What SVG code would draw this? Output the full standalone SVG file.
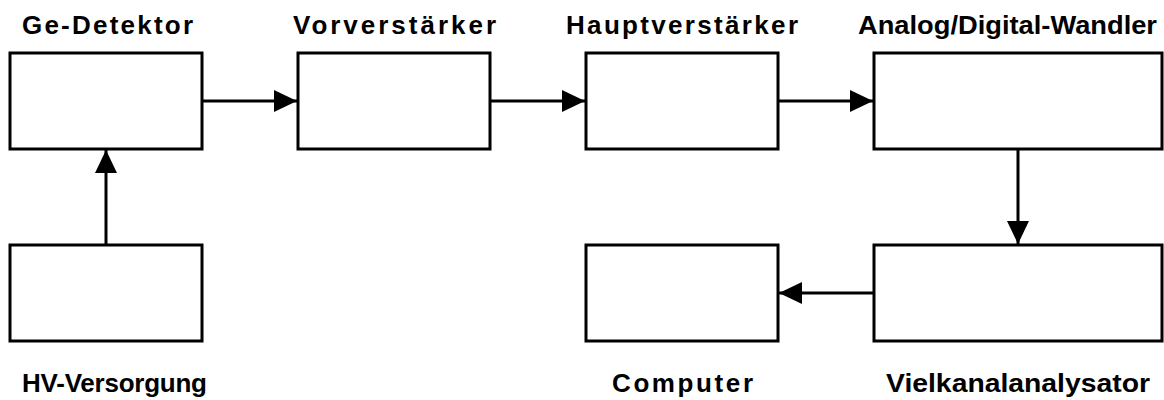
<svg xmlns="http://www.w3.org/2000/svg" width="1164" height="400" viewBox="0 0 1164 400">
<style>
.box{fill:#fff;stroke:#000;stroke-width:3}
.lbl{font-family:"Liberation Sans",Arial,sans-serif;font-weight:bold;font-size:26px;fill:#000}
.con{stroke:#000;stroke-width:3;fill:none;marker-end:url(#ah)}
</style>
<defs>
<marker id="ah" markerUnits="userSpaceOnUse" markerWidth="23" markerHeight="22" refX="23" refY="11" orient="auto" viewBox="0 0 23 22">
<path d="M0,0 L23,11 L0,22 Z" fill="#000"/>
</marker>
</defs>
<rect width="1164" height="400" fill="#fff"/>
<g id="ge-detektor"><rect class="box" x="10" y="53" width="192" height="96"/><text class="lbl" x="22" y="34" textLength="171" lengthAdjust="spacing">Ge-Detektor</text></g>
<g id="vorverstaerker"><rect class="box" x="298" y="53" width="192" height="96"/><text class="lbl" x="293" y="34" textLength="203" lengthAdjust="spacing">Vorverstärker</text></g>
<g id="hauptverstaerker"><rect class="box" x="586" y="53" width="192" height="96"/><text class="lbl" x="566" y="34" textLength="232" lengthAdjust="spacing">Hauptverstärker</text></g>
<g id="adc"><rect class="box" x="874" y="53" width="288" height="96"/><text class="lbl" x="858" y="34" textLength="299" lengthAdjust="spacingAndGlyphs">Analog/Digital-Wandler</text></g>
<g id="hv"><rect class="box" x="10" y="245" width="192" height="96"/><text class="lbl" x="22" y="392" textLength="185" lengthAdjust="spacing">HV-Versorgung</text></g>
<g id="computer"><rect class="box" x="586" y="245" width="192" height="96"/><text class="lbl" x="612" y="392" textLength="141" lengthAdjust="spacing">Computer</text></g>
<g id="vka"><rect class="box" x="874" y="245" width="288" height="96"/><text class="lbl" x="886" y="392" textLength="264" lengthAdjust="spacingAndGlyphs">Vielkanalanalysator</text></g>
<g id="connectors">
<line class="con" x1="202" y1="101" x2="297" y2="101"/>
<line class="con" x1="490" y1="101" x2="585" y2="101"/>
<line class="con" x1="778" y1="101" x2="873" y2="101"/>
<line class="con" x1="106" y1="245" x2="106" y2="150"/>
<line class="con" x1="1018" y1="149" x2="1018" y2="244"/>
<line class="con" x1="874" y1="293" x2="779" y2="293"/>
</g>
</svg>
